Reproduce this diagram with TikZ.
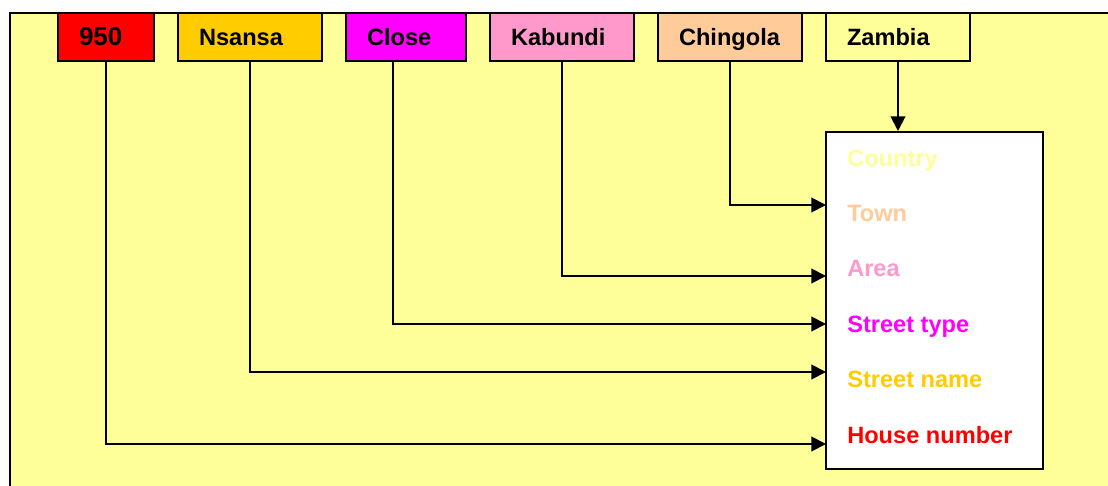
\documentclass[tikz,border=0pt]{standalone}
\usepackage{fontspec}
\setmainfont{Liberation Sans}
\usetikzlibrary{arrows.meta}
\definecolor{paleyellow}{HTML}{FFFF99}
\definecolor{hnred}{HTML}{FF0000}
\definecolor{snorange}{HTML}{FFCC00}
\definecolor{stmagenta}{HTML}{FF00FF}
\definecolor{arpink}{HTML}{FF99CC}
\definecolor{twpeach}{HTML}{FFCC99}
\tikzset{
  partbox/.style={draw=black, line width=1.5pt, minimum height=36pt,
    inner xsep=15.75pt, inner ysep=0pt, align=left,
    text height=12.8pt, text depth=0pt,
    font=\fontsize{17.7}{20}\selectfont\bfseries},
  fieldlabel/.style={anchor=base west, inner sep=0pt,
    font=\fontsize{17.7}{20}\selectfont\bfseries},
  conn/.style={line width=1.5pt, -{Triangle[length=11pt,width=11pt]}},
}
\begin{document}
\begin{tikzpicture}[x=0.75pt, y=-0.75pt]
  \useasboundingbox (0,0) rectangle (1108,486);
  \clip (0,0) rectangle (1108,486);
  % page background and frame
  \fill[white] (0,0) rectangle (1108,486);
  \fill[paleyellow] (10,13) rectangle (1120,500);
  \draw[line width=1.5pt] (1120,13) -- (10,13) -- (10,500);

  % address parts along the top
  \node[partbox, fill=hnred, minimum width=72pt, text width=40.5pt,
        font=\fontsize{19.5}{22}\selectfont\bfseries] (b950) at (106,37) {950};
  \node[partbox, fill=snorange, minimum width=108pt, text width=76.5pt] (bNsansa) at (250,37) {Nsansa};
  \node[partbox, fill=stmagenta, minimum width=90pt, text width=58.5pt] (bClose) at (406,37) {Close};
  \node[partbox, fill=arpink, minimum width=108pt, text width=76.5pt] (bKabundi) at (562,37) {Kabundi};
  \node[partbox, fill=twpeach, minimum width=108pt, text width=76.5pt] (bChingola) at (730,37) {Chingola};
  \node[partbox, fill=paleyellow, minimum width=108pt, text width=76.5pt] (bZambia) at (898,37) {Zambia};

  % address form
  \node[draw=black, fill=white, line width=1.5pt, minimum width=162.75pt,
        minimum height=252.75pt, inner sep=0pt] (info) at (934.5,300.5) {};

  \node[fieldlabel, text=paleyellow] (lCountry) at (847,166) {Country};
  \node[fieldlabel, text=twpeach]    (lTown)    at (847,221.4) {Town};
  \node[fieldlabel, text=arpink]     (lArea)    at (847,276.8) {Area};
  \node[fieldlabel, text=stmagenta]  (lType)    at (847,332.2) {Street type};
  \node[fieldlabel, text=snorange]   (lName)    at (847,387.6) {Street name};
  \node[fieldlabel, text=hnred]      (lHouse)   at (847,443) {House number};

  % entry points on the form's left edge
  \coordinate (inTown)  at (826,205);
  \coordinate (inArea)  at (826,276);
  \coordinate (inType)  at (826,324);
  \coordinate (inName)  at (826,372);
  \coordinate (inHouse) at (826,444);

  % connectors
  \draw[conn] (bZambia.south) -- (bZambia.south |- info.north);
  \draw[conn] (bChingola.south) |- (inTown);
  \draw[conn] (bKabundi.south) |- (inArea);
  \draw[conn] ([xshift=36pt]bClose.south west) |- (inType);
  \draw[conn] (bNsansa.south) |- (inName);
  \draw[conn] (b950.south) |- (inHouse);
\end{tikzpicture}
\end{document}
